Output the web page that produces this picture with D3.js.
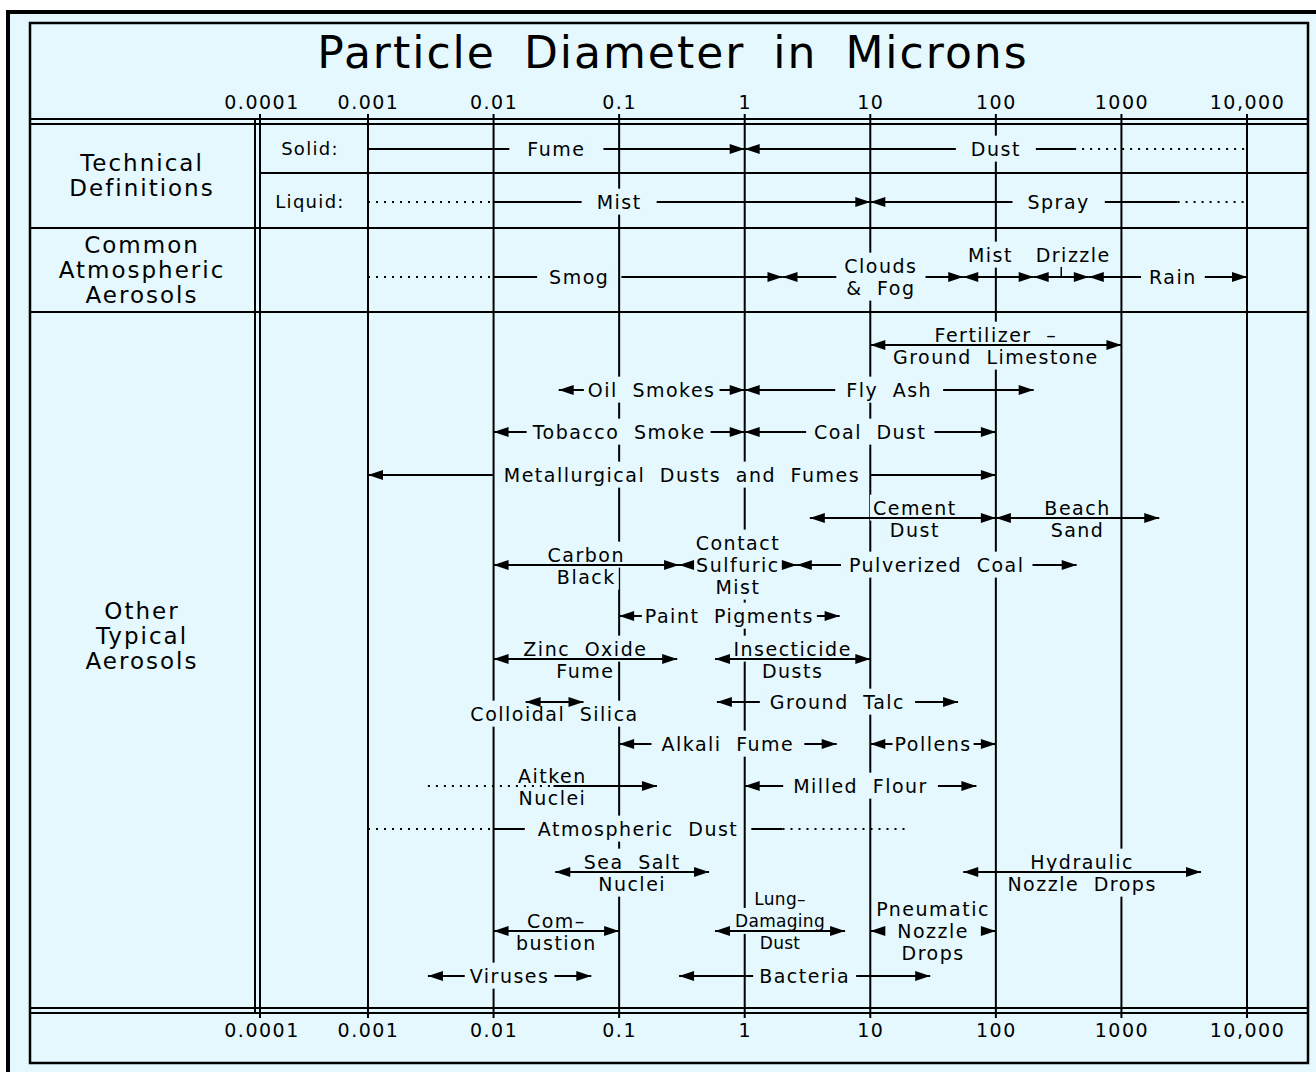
<!DOCTYPE html>
<html>
<head>
<meta charset="utf-8">
<style>
 body {margin: 0; background: #fff;}
 svg {display: block;}
 text {font-family: "DejaVu Sans", sans-serif; fill: #000;}
</style>
<title>Particle Diameter in Microns</title>
</head>
<body>
<div id="contenedor"></div>
<script src="https://d3js.org/d3.v7.min.js"></script>
<script>
// ---- data ----
var tickValues = [0.001, 0.01, 0.1, 1, 10, 100, 1000, 10000];
var tickLabels = ["0.001", "0.01", "0.1", "1", "10", "100", "1000", "10,000"];
var lowestLabel = "0.0001";

var groupNames = [["Technical", "Definitions"], ["Common", "Atmospheric", "Aerosols"], ["Other", "Typical", "Aerosols"]];
var phaseNames = ["Solid:", "Liquid:"];

// size ranges in microns
var names = [
 "Fume", "Dust",
 "Mist", "Spray",
 "Smog", "Clouds\n& Fog", "Mist", "Drizzle", "Rain",
 "Fertilizer  –\nGround Limestone",
 "Oil Smokes", "Fly Ash",
 "Tobacco Smoke", "Coal Dust",
 "Metallurgical Dusts and Fumes",
 "Cement\nDust", "Beach\nSand",
 "Carbon\nBlack", "Contact\nSulfuric\nMist", "Pulverized Coal",
 "Paint Pigments",
 "Zinc Oxide\nFume", "Insecticide\nDusts",
 "Colloidal Silica", "Ground Talc",
 "Alkali Fume", "Pollens",
 "Aitken\nNuclei", "Milled Flour",
 "Atmospheric Dust",
 "Sea Salt\nNuclei", "Hydraulic\nNozzle Drops",
 "Com–\nbustion", "Lung–\nDamaging\nDust", "Pneumatic\nNozzle\nDrops",
 "Viruses", "Bacteria"
];
var low  = [0.001, 1, 0.01, 10, 0.01, 2, 55, 200, 550, 10, 0.033, 1, 0.01, 1, 0.001, 3.3, 100, 0.01, 0.3, 2.6, 0.1,
            0.01, 0.58, 0.018, 0.6, 0.1, 10, 0.03, 1, 0.01, 0.031, 55, 0.01, 0.58, 10, 0.003, 0.3];
var high = [1, 420, 10, 2800, 2, 55, 200, 550, 10000, 1000, 1, 200, 1, 100, 100, 100, 2000, 0.3, 2.6, 440, 5.7,
            0.29, 10, 0.052, 50, 5.4, 100, 0.2, 70, 2, 0.52, 4300, 0.1, 6.3, 100, 0.06, 30];
// uncertain extensions (dotted)
var dotLow  = [null, null, 0.001, null, 0.001, null, null, null, null, null, null, null, null, null, null, null, null, null, null, null, null,
               null, null, null, null, null, null, 0.003, null, 0.001, null, null, null, null, null, null, null];
var dotHigh = [null, 10000, null, 10000, null, null, null, null, null, null, null, null, null, null, null, null, null, null, null, null, null,
               null, null, null, null, null, null, null, null, 20, null, null, null, null, null, null, null];
// chart row of each range
var row = [0, 0, 1, 1, 2, 2, 2, 2, 2, 3, 4, 4, 5, 5, 6, 7, 7, 8, 8, 8, 9, 10, 10, 11, 11, 12, 12, 13, 13, 14, 15, 15, 16, 16, 16, 17, 17];

// ---- layout ----
var W = 1316, H = 1072;
var bg = "#e4f8fe";
var rowY = [149, 202, 277, 345, 390, 432, 475, 518, 565, 616, 659, 702, 744, 786, 829, 872, 931, 976];
var leftEdge = 260;
var x = d3.scaleLog().domain([0.001, 10000]).range([368, 1247]);

var defaults = {mode: "inline", above: 0, arrows: "both", pad: 10, dx: 0, dy: 0, size: 19, ls: 1.5};
var styles = {
 "0|Fume": {arrows: "right", pad: 18},
 "0|Dust": {arrows: "left", pad: 15},
 "1|Mist": {arrows: "right", pad: 15},
 "1|Spray": {arrows: "left", pad: 15},
 "2|Smog": {arrows: "right", pad: 12, dx: 4},
 "2|Clouds\n& Fog": {pad: 8, dx: 8},
 "2|Mist": {mode: "split", above: 1, dy: -12, dx: -8},
 "2|Drizzle": {mode: "split", above: 1, dy: -12, dx: 12, tick: true},
 "2|Rain": {pad: 8, dx: 5},
 "3|Fertilizer  –\nGround Limestone": {mode: "split", above: 1},
 "4|Oil Smokes": {pad: 4},
 "4|Fly Ash": {pad: 11},
 "5|Tobacco Smoke": {pad: 5},
 "5|Coal Dust": {pad: 8},
 "6|Metallurgical Dusts and Fumes": {pad: 11},
 "7|Cement\nDust": {mode: "split", above: 1, dx: 12},
 "7|Beach\nSand": {mode: "split", above: 1},
 "8|Carbon\nBlack": {mode: "split", above: 1},
 "8|Contact\nSulfuric\nMist": {pad: 2},
 "8|Pulverized Coal": {pad: 8},
 "9|Paint Pigments": {pad: 3},
 "10|Zinc Oxide\nFume": {mode: "split", above: 1},
 "10|Insecticide\nDusts": {mode: "split", above: 1},
 "11|Colloidal Silica": {mode: "split", above: 0},
 "12|Pollens": {pad: 2},
 "13|Aitken\nNuclei": {mode: "split", above: 1, arrows: "right", dx: 10},
 "14|Atmospheric Dust": {arrows: "none", pad: 13},
 "15|Sea Salt\nNuclei": {mode: "split", above: 1},
 "15|Hydraulic\nNozzle Drops": {mode: "split", above: 1},
 "16|Com–\nbustion": {mode: "split", above: 1},
 "16|Lung–\nDamaging\nDust": {mode: "split", above: 2, size: 17, ls: 0.3},
 "16|Pneumatic\nNozzle\nDrops": {pad: 1},
 "17|Viruses": {pad: 5},
 "17|Bacteria": {pad: 6}
};

var svg = d3.select("#contenedor").append("svg").attr("width", W).attr("height", H);
svg.append("rect").attr("width", W).attr("height", H).attr("fill", "#fff");
svg.append("rect").attr("x", 8).attr("y", 12).attr("width", W).attr("height", H)
   .attr("fill", bg).attr("stroke", "#000").attr("stroke-width", 4);
svg.append("rect").attr("x", 30).attr("y", 23).attr("width", 1278).attr("height", 1040)
   .attr("fill", "none").attr("stroke", "#000").attr("stroke-width", 2.5);

var gGrid = svg.append("g"),
    gMask = svg.append("g"),
    gFrame = svg.append("g"),
    gLines = svg.append("g"),
    gText = svg.append("g");

// vertical grid lines
gGrid.selectAll("line").data(tickValues).join("line")
  .attr("x1", d => x(d)).attr("x2", d => x(d)).attr("y1", 114).attr("y2", 1018)
  .attr("stroke", "#000").attr("stroke-width", 2);

// frame lines
var frame = [
 [30, 119, 1308, 119], [30, 124, 1308, 124],
 [260, 173, 1308, 173], [30, 228, 1308, 228], [30, 312, 1308, 312],
 [30, 1008, 1308, 1008], [30, 1013, 1308, 1013],
 [255, 119, 255, 1013], [leftEdge, 114, leftEdge, 1018]
];
gFrame.selectAll("line").data(frame).join("line")
  .attr("x1", d => d[0]).attr("y1", d => d[1]).attr("x2", d => d[2]).attr("y2", d => d[3])
  .attr("stroke", "#000").attr("stroke-width", 2);

// title
svg.append("text").attr("x", 673).attr("y", 68).attr("text-anchor", "middle")
  .attr("font-size", 44).attr("letter-spacing", 2).style("word-spacing", "12px")
  .text("Particle Diameter in Microns");

// tick labels top and bottom
function tickAxis(yBase) {
 var g = svg.append("g").attr("transform", "translate(0," + yBase + ")")
   .call(d3.axisTop(x).tickValues(tickValues).tickFormat((d, i) => tickLabels[i]).tickSize(0).tickPadding(0));
 g.select(".domain").remove();
 g.attr("font-family", "DejaVu Sans").attr("font-size", 19);
 g.selectAll("text").attr("letter-spacing", 1.5).attr("fill", "#000");
 g.append("text").attr("x", leftEdge + 2).attr("text-anchor", "middle").attr("font-size", 19)
  .attr("letter-spacing", 1.5).text(lowestLabel);
}
tickAxis(109);
tickAxis(1037);

// left column
var groupY = [175, 270, 636];
groupNames.forEach(function (lines, gi) {
 lines.forEach(function (t, li) {
  svg.append("text").attr("x", 142).attr("y", groupY[gi] + (li - (lines.length - 1) / 2) * 25)
    .attr("dy", "0.35em").attr("text-anchor", "middle").attr("font-size", 23).attr("letter-spacing", 2)
    .text(t);
 });
});
phaseNames.forEach(function (t, i) {
 svg.append("text").attr("x", 310).attr("y", rowY[i]).attr("dy", "0.35em").attr("text-anchor", "middle")
   .attr("font-size", 18).attr("letter-spacing", 1.3).text(t);
});

// ranges
var AL = 15, AH = 5;
function arrow(tip, y, dir) {
 return "M" + tip + "," + y + "L" + (tip - dir * AL) + "," + (y - AH) + "L" + (tip - dir * AL) + "," + (y + AH) + "Z";
}
function cut(a, b, gap) {
 if (!gap || gap[1] <= a || gap[0] >= b) return [[a, b]];
 var out = [];
 if (gap[0] > a) out.push([a, gap[0]]);
 if (gap[1] < b) out.push([gap[1], b]);
 return out;
}

names.forEach(function (name, i) {
 var st = Object.assign({}, defaults, styles[row[i] + "|" + name] || {});
 var y = rowY[row[i]];
 var lines = name.split("\n");
 var lo = low[i], hi = high[i];
 var flo = dotLow[i] || lo, fhi = dotHigh[i] || hi;
 var mid = x(Math.sqrt(flo * fhi));
 var cx = mid + st.dx;

 // text lines
 var tnodes = lines.map(function (t, li) {
  var ty;
  if (st.mode === "inline") ty = y + (li - (lines.length - 1) / 2) * 22;
  else if (li < st.above) ty = y - 10 - (st.above - 1 - li) * 22;
  else ty = y + 12 + (li - st.above) * 22;
  ty += st.dy;
  return gText.append("text").attr("x", cx).attr("y", ty).attr("dy", "0.35em")
    .attr("text-anchor", "middle").attr("font-size", st.size).attr("letter-spacing", st.ls)
    .style("word-spacing", "7px").text(t);
 });
 var boxes = tnodes.map(n => n.node().getBBox());
 boxes.forEach(function (b) {
  gMask.append("rect").attr("x", b.x - 3).attr("y", b.y + b.height / 2 - 13)
    .attr("width", b.width + 6).attr("height", 26).attr("fill", bg);
 });

 var gap = null;
 if (st.mode === "inline") {
  var l = d3.min(boxes, b => b.x), r = d3.max(boxes, b => b.x + b.width);
  gap = [l - st.pad, r + st.pad];
 }
 var xlo = x(lo), xhi = x(hi);
 cut(xlo, xhi, gap).forEach(function (s) {
  gLines.append("line").attr("x1", s[0]).attr("x2", s[1]).attr("y1", y).attr("y2", y)
    .attr("stroke", "#000").attr("stroke-width", 2);
 });
 [[dotLow[i], lo], [hi, dotHigh[i]]].forEach(function (d) {
  if (d[0] == null || d[1] == null) return;
  cut(x(d[0]), x(d[1]), gap).forEach(function (s) {
   gLines.append("line").attr("x1", s[0]).attr("x2", s[1]).attr("y1", y).attr("y2", y)
     .attr("stroke", "#000").attr("stroke-width", 2).attr("stroke-dasharray", "2,6");
  });
 });
 if (st.arrows === "both" || st.arrows === "left")
  gLines.append("path").attr("d", arrow(xlo, y, -1)).attr("fill", "#000");
 if (st.arrows === "both" || st.arrows === "right")
  gLines.append("path").attr("d", arrow(xhi, y, 1)).attr("fill", "#000");
 if (st.tick)
  gLines.append("line").attr("x1", mid).attr("x2", mid).attr("y1", y - 10).attr("y2", y)
    .attr("stroke", "#000").attr("stroke-width", 1.5);
});
</script>
</body>
</html>
